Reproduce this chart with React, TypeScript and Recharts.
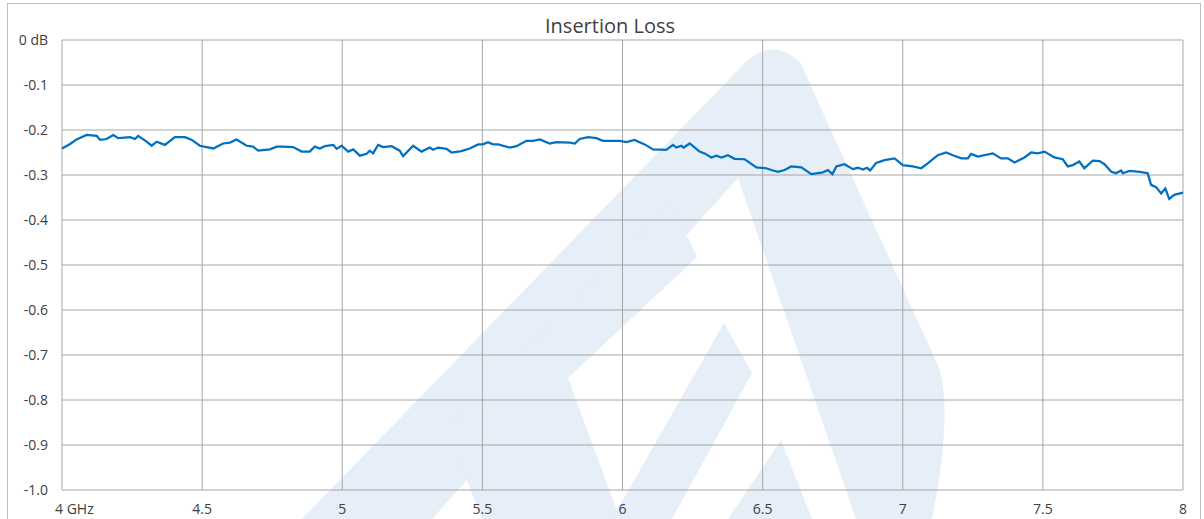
import { CartesianGrid, Line, LineChart, XAxis, YAxis } from "recharts";

// frequency in GHz
const freqGHz = [
  4.0, 4.029, 4.052, 4.088, 4.124, 4.136, 4.159, 4.183, 4.201, 4.243, 4.26, 4.272, 4.302, 4.32, 4.338,
  4.367, 4.403, 4.439, 4.463, 4.492, 4.516, 4.54, 4.575, 4.599, 4.623, 4.659, 4.682, 4.7, 4.742, 4.766,
  4.789, 4.825, 4.855, 4.884, 4.902, 4.92, 4.938, 4.968, 4.98, 4.998, 5.021, 5.039, 5.063, 5.087, 5.098,
  5.11, 5.128, 5.146, 5.176, 5.205, 5.217, 5.253, 5.283, 5.312, 5.324, 5.342, 5.372, 5.39, 5.425, 5.455,
  5.485, 5.502, 5.52, 5.538, 5.556, 5.598, 5.622, 5.657, 5.681, 5.705, 5.74, 5.764, 5.812, 5.83, 5.847,
  5.877, 5.907, 5.93, 5.954, 5.99, 6.014, 6.043, 6.079, 6.109, 6.156, 6.18, 6.192, 6.21, 6.218, 6.24,
  6.275, 6.293, 6.317, 6.335, 6.353, 6.376, 6.4, 6.436, 6.478, 6.513, 6.531, 6.555, 6.578, 6.602, 6.638,
  6.674, 6.715, 6.733, 6.749, 6.763, 6.792, 6.822, 6.84, 6.858, 6.872, 6.884, 6.905, 6.935, 6.971, 7.0,
  7.036, 7.066, 7.089, 7.125, 7.155, 7.179, 7.209, 7.232, 7.244, 7.268, 7.321, 7.351, 7.375, 7.399, 7.434,
  7.458, 7.482, 7.506, 7.541, 7.571, 7.589, 7.607, 7.63, 7.648, 7.678, 7.702, 7.72, 7.744, 7.761, 7.779,
  7.785, 7.809, 7.845, 7.874, 7.886, 7.904, 7.922, 7.937, 7.951, 7.969, 8.0,
];

// insertion loss in dB
const lossDb = [
  -0.241, -0.231, -0.221, -0.211, -0.213, -0.222, -0.22, -0.211, -0.218, -0.216, -0.22, -0.213, -0.226, -0.235, -0.226,
  -0.233, -0.216, -0.216, -0.222, -0.235, -0.238, -0.241, -0.23, -0.228, -0.221, -0.235, -0.237, -0.246, -0.243, -0.237,
  -0.237, -0.238, -0.248, -0.248, -0.237, -0.241, -0.236, -0.233, -0.242, -0.235, -0.248, -0.243, -0.257, -0.253, -0.246,
  -0.252, -0.233, -0.238, -0.236, -0.246, -0.258, -0.235, -0.248, -0.239, -0.244, -0.239, -0.242, -0.25, -0.247, -0.241,
  -0.232, -0.232, -0.227, -0.232, -0.232, -0.239, -0.236, -0.224, -0.224, -0.221, -0.23, -0.227, -0.228, -0.23, -0.22,
  -0.216, -0.218, -0.224, -0.224, -0.224, -0.227, -0.222, -0.232, -0.243, -0.244, -0.233, -0.239, -0.235, -0.239, -0.23,
  -0.248, -0.252, -0.261, -0.257, -0.261, -0.256, -0.264, -0.265, -0.283, -0.285, -0.289, -0.293, -0.289, -0.281, -0.283,
  -0.298, -0.294, -0.289, -0.298, -0.281, -0.276, -0.287, -0.284, -0.288, -0.284, -0.29, -0.273, -0.267, -0.263, -0.278,
  -0.281, -0.285, -0.274, -0.256, -0.25, -0.256, -0.263, -0.263, -0.253, -0.259, -0.252, -0.263, -0.263, -0.272, -0.261,
  -0.25, -0.252, -0.248, -0.261, -0.265, -0.281, -0.278, -0.27, -0.285, -0.268, -0.269, -0.276, -0.293, -0.296, -0.29,
  -0.296, -0.291, -0.293, -0.296, -0.322, -0.327, -0.341, -0.33, -0.353, -0.344, -0.339,
];

const xTicks = [4, 4.5, 5, 5.5, 6, 6.5, 7, 7.5, 8];
const yTicks = [0, -0.1, -0.2, -0.3, -0.4, -0.5, -0.6, -0.7, -0.8, -0.9, -1.0];

const data = freqGHz.map((f, i) => ({ f, loss: lossDb[i] }));

const FONT = "'Open Sans', sans-serif";
const TEXT = "#404040";

const XTick = ({ x, y, payload }: any) => {
  const first = payload.value === 4;
  return (
    <text
      x={first ? x - 7 : x}
      y={y}
      dy="0.71em"
      textAnchor={first ? "start" : "middle"}
      fontFamily={FONT}
      fontSize={14}
      fill={TEXT}
    >
      {first ? "4 GHz" : String(payload.value)}
    </text>
  );
};

const yLabel = (v: number) => (v === 0 ? "0 dB" : v.toFixed(1));

// faint logo watermark behind the chart
const Watermark = () => (
  <svg width={1204} height={519} style={{ position: "absolute", left: 0, top: 0 }}>
    <g fill="#e6eef7">
      <path
        fillRule="evenodd"
        d="M302,519 L742,66 Q770,35 800,62 L940,370 Q952,420 932,519 Z M432,519 L738,178 L856,519 Z"
      />
      <path d="M446,427 L671,203 L697,257 L568,378 L620,519 L482,519 Z" />
      <path d="M724,323 L752,373 L672,519 L612,519 Z" />
      <path d="M781,440 L812,519 L728,519 Z" />
    </g>
  </svg>
);

export default function App() {
  return (
    <div
      style={{
        position: "absolute",
        left: 0,
        top: 0,
        width: 1204,
        height: 519,
        overflow: "hidden",
        background: "#fff",
      }}
    >
      <Watermark />
      <div
        style={{
          position: "absolute",
          left: 7,
          top: 3,
          width: 1192,
          height: 540,
          border: "1px solid #c0c0c0",
        }}
      />
      <div
        style={{
          position: "absolute",
          left: 0,
          top: 13,
          width: 1220,
          textAlign: "center",
          fontFamily: FONT,
          fontSize: 20,
          color: TEXT,
          lineHeight: "26px",
        }}
      >
        Insertion Loss
      </div>
      <LineChart
        width={1204}
        height={519}
        data={data}
        margin={{ top: 40, right: 21, bottom: 0, left: 0 }}
        style={{ position: "absolute", left: 0, top: 0 }}
      >
        <CartesianGrid stroke="#a6a6a6" strokeWidth={1} />
        <XAxis
          dataKey="f"
          type="number"
          domain={[4, 8]}
          ticks={xTicks}
          height={29}
          axisLine={false}
          tickLine={false}
          tickSize={0}
          tickMargin={14}
          tick={<XTick />}
        />
        <YAxis
          type="number"
          domain={[-1, 0]}
          ticks={yTicks}
          width={62}
          axisLine={false}
          tickLine={false}
          tickSize={0}
          tickMargin={14}
          tickFormatter={yLabel}
          tick={{ fontFamily: FONT, fontSize: 14, fill: TEXT }}
        />
        <Line
          dataKey="loss"
          stroke="#0070c0"
          strokeWidth={2.25}
          dot={false}
          type="linear"
          isAnimationActive={false}
        />
      </LineChart>
    </div>
  );
}
